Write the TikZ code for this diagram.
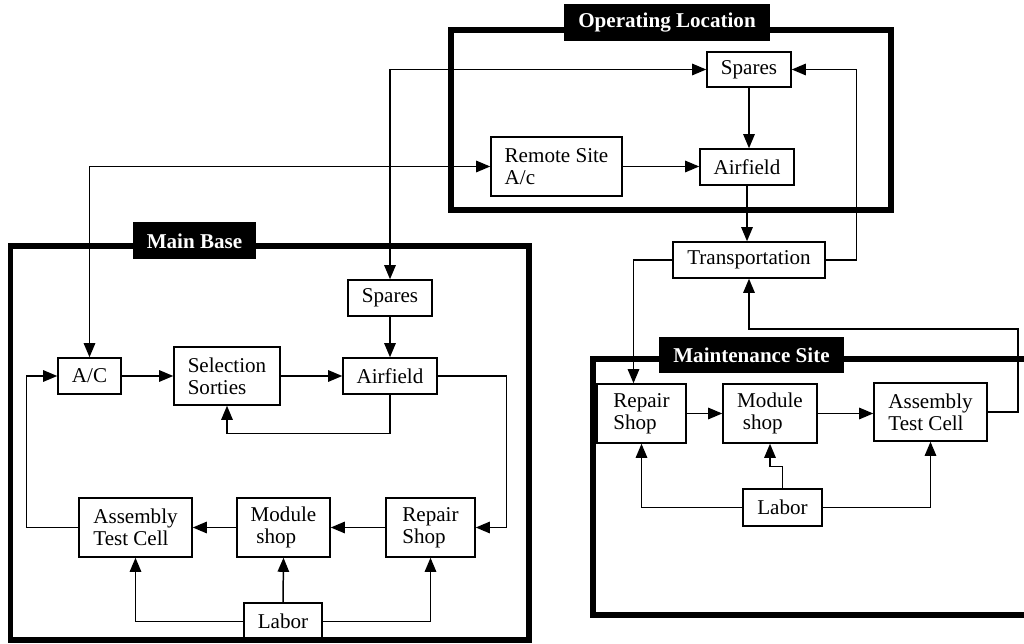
\documentclass[tikz,border=0pt]{standalone}
\usepackage{fontspec}
\setmainfont{Liberation Serif}
\usetikzlibrary{positioning, arrows.meta, calc}

\begin{document}
\begin{tikzpicture}[x=0.02cm, y=-0.02cm, >={Triangle[length=8pt, width=6.5pt]}, line width=0.85pt, font=\fontsize{12}{12.5}\selectfont]

\tikzset{
  blk/.style={draw, align=left, inner sep=0pt},
  zone/.style={line width=3.4pt},
  tag/.style={fill=black, text=white, font=\fontsize{12}{12.5}\selectfont\bfseries, inner sep=0pt, minimum height=0.74cm},
}

\useasboundingbox (0,0) rectangle (1024,644);

% frames of the three sites
\draw[zone] (451,30) rectangle (891,210);
\draw[zone] (10.5,246) rectangle (529,640);
\draw[zone] (1024,359) -- (593,359) -- (593,615) -- (1024,615);

\node[tag, minimum width=4.12cm] (opLoc) at (667,22.5) {Operating Location};
\node[tag, minimum width=2.46cm] (mainBase) at (194.5,241) {Main Base};
\node[tag, minimum width=3.7cm, minimum height=0.72cm] (mntSite) at (751.5,355) {Maintenance Site};

% operating location
\node[blk, minimum width=1.68cm, minimum height=0.7cm] (olSpares) at (749,69.5) {Spares};
\node[blk, minimum width=1.88cm, minimum height=0.72cm] (olAirfield) at (747,167) {Airfield};
\node[blk, minimum width=2.62cm, minimum height=1.18cm] (remote) at (556.5,166.5) {Remote Site\\A/c};
\node[blk, minimum width=3.04cm, minimum height=0.72cm] (trans) at (749,260) {Transportation};

% maintenance site
\node[blk, minimum width=1.78cm, minimum height=1.18cm] (msRepair) at (641.5,413.5) {Repair\\Shop};
\node[blk, minimum width=1.88cm, minimum height=1.18cm] (msModule) at (770,413.5) {Module\\\hspace*{0.27em}shop};
\node[blk, minimum width=2.26cm, minimum height=1.16cm] (msAssembly) at (930.5,412) {Assembly\\Test Cell};
\node[blk, minimum width=1.58cm, minimum height=0.74cm] (msLabor) at (782.5,507.5) {Labor};

% main base
\node[blk, minimum width=1.68cm, minimum height=0.72cm] (mbSpares) at (390,298) {Spares};
\node[blk, minimum width=1.26cm, minimum height=0.72cm] (ac) at (89.5,376) {A/C};
\node[blk, minimum width=2.12cm, minimum height=1.16cm] (sel) at (227,376) {Selection\\Sorties};
\node[blk, minimum width=1.88cm, minimum height=0.72cm] (mbAirfield) at (390,376) {Airfield};
\node[blk, minimum width=2.26cm, minimum height=1.18cm] (mbAssembly) at (135.5,527.5) {Assembly\\Test Cell};
\node[blk, minimum width=1.86cm, minimum height=1.18cm] (mbModule) at (283.5,527.5) {Module\\\hspace*{0.27em}shop};
\node[blk, minimum width=1.78cm, minimum height=1.18cm] (mbRepair) at (430.5,527.5) {Repair\\Shop};
\node[blk, minimum width=1.56cm, minimum height=0.74cm] (mbLabor) at (283,621.5) {Labor};

\coordinate (msTurn) at (1018,329);

% links between sites
\draw[<->] (mbSpares.north) |- (olSpares.west);
\draw[<->] (ac.north) |- (remote.west);
\draw[->] (olSpares.south) -- (olSpares.south |- olAirfield.north);
\draw[->] (remote.east) -- (remote.east -| olAirfield.west);
\draw[->] (olAirfield.south) -- (olAirfield.south |- trans.north);
\draw[->] (trans.east) -- ++(31,0) |- (olSpares.east);
\draw[->] (trans.west) -| ($(msRepair.north)+(-8,0)$);
\draw[->] (msAssembly.east) -| (msTurn) -| (trans.south);

% maintenance site flows
\draw[->] (msRepair) -- (msModule);
\draw[->] (msModule.east) -- (msModule.east -| msAssembly.west);
\draw[->] (msLabor.west) -| (msRepair.south);
\draw[->] (msLabor.east) -| (msAssembly.south);
\draw[->] (msLabor.north) -- ++(0,-22) -| (msModule.south);

% main base flows
\draw[->] (mbSpares) -- (mbAirfield);
\draw[->] (ac) -- (sel);
\draw[->] (sel) -- (mbAirfield);
\draw[->] (mbAirfield.south) -- ++(0,39) -| (sel.south);
\draw[->] (mbAirfield.east) -- ++(69,0) |- (mbRepair.east);
\draw[->] (mbRepair) -- (mbModule);
\draw[->] (mbModule) -- (mbAssembly);
\draw[->] (mbAssembly.west) -- ++(-52,0) |- (ac.west);
\draw[->] (mbLabor.west) -| (mbAssembly.south);
\draw[->] (mbLabor.north) -- (mbModule.south);
\draw[->] (mbLabor.east) -| (mbRepair.south);

\end{tikzpicture}
\end{document}
